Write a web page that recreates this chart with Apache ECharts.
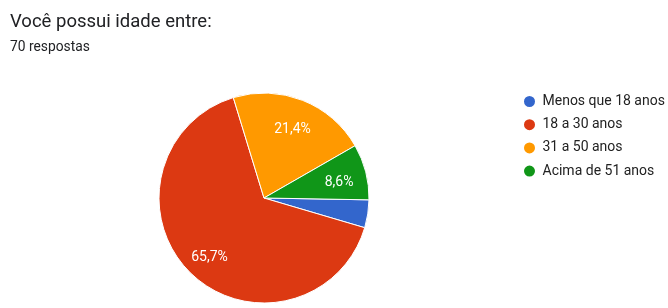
<!DOCTYPE html>
<html>
<head>
<meta charset="utf-8">
<script src="https://cdn.jsdelivr.net/npm/echarts@6/dist/echarts.min.js"></script>
<style>
html,body{margin:0;padding:0;background:#fff;}
#c{width:668px;height:308px;}
</style>
</head>
<body>
<div id="c"></div>
<script>
const categories = ['Menos que 18 anos', '18 a 30 anos', '31 a 50 anos', 'Acima de 51 anos'];
const counts = [3, 46, 15, 6];
const colors = ['#3366cc', '#dc3912', '#ff9900', '#109618'];
const titleText = 'Você possui idade entre:';
const subText = '70 respostas';

const total = counts.reduce((a, b) => a + b, 0);
const data = categories.map((n, i) => ({ name: n, value: counts[i], itemStyle: { color: colors[i] } }));
const fmt = p => (p.value / total * 100).toFixed(1).replace('.', ',') + '%';

const chart = echarts.init(document.getElementById('c'), null, { renderer: 'canvas' });
chart.setOption({
  animation: false,
  backgroundColor: '#fff',
  title: {
    text: titleText,
    subtext: subText,
    left: 5,
    top: 8,
    itemGap: 9,
    textStyle: { fontFamily: 'Roboto', fontSize: 18.5, fontWeight: 'normal', color: '#202124' },
    subtextStyle: { fontFamily: 'Roboto', fontSize: 13.8, color: '#202124' }
  },
  legend: {
    orient: 'vertical',
    left: 517,
    top: 89,
    icon: 'circle',
    itemWidth: 16,
    itemHeight: 13,
    itemGap: 8.2,
    data: categories,
    textStyle: { fontFamily: 'Roboto', fontSize: 14, color: '#222' }
  },
  series: [
    {
      type: 'pie',
      center: [264, 198],
      radius: [0, 105],
      startAngle: -1,
      clockwise: true,
      data: data,
      label: { show: false },
      labelLine: { show: false },
      itemStyle: { borderColor: '#fff', borderWidth: 1 },
      emphasis: { disabled: true }
    },
    {
      type: 'pie',
      center: [264, 198],
      radius: [44, 105],
      startAngle: -1,
      clockwise: true,
      silent: true,
      minShowLabelAngle: 20,
      data: categories.map((n, i) => ({ name: n, value: counts[i] })),
      itemStyle: { color: 'transparent', borderWidth: 0 },
      label: {
        show: true,
        position: 'inside',
        formatter: fmt,
        offset: [0, 4],
        fontFamily: 'Roboto',
        fontSize: 14,
        color: '#fff'
      },
      labelLine: { show: false },
      emphasis: { disabled: true }
    }
  ]
});
</script>
</body>
</html>
